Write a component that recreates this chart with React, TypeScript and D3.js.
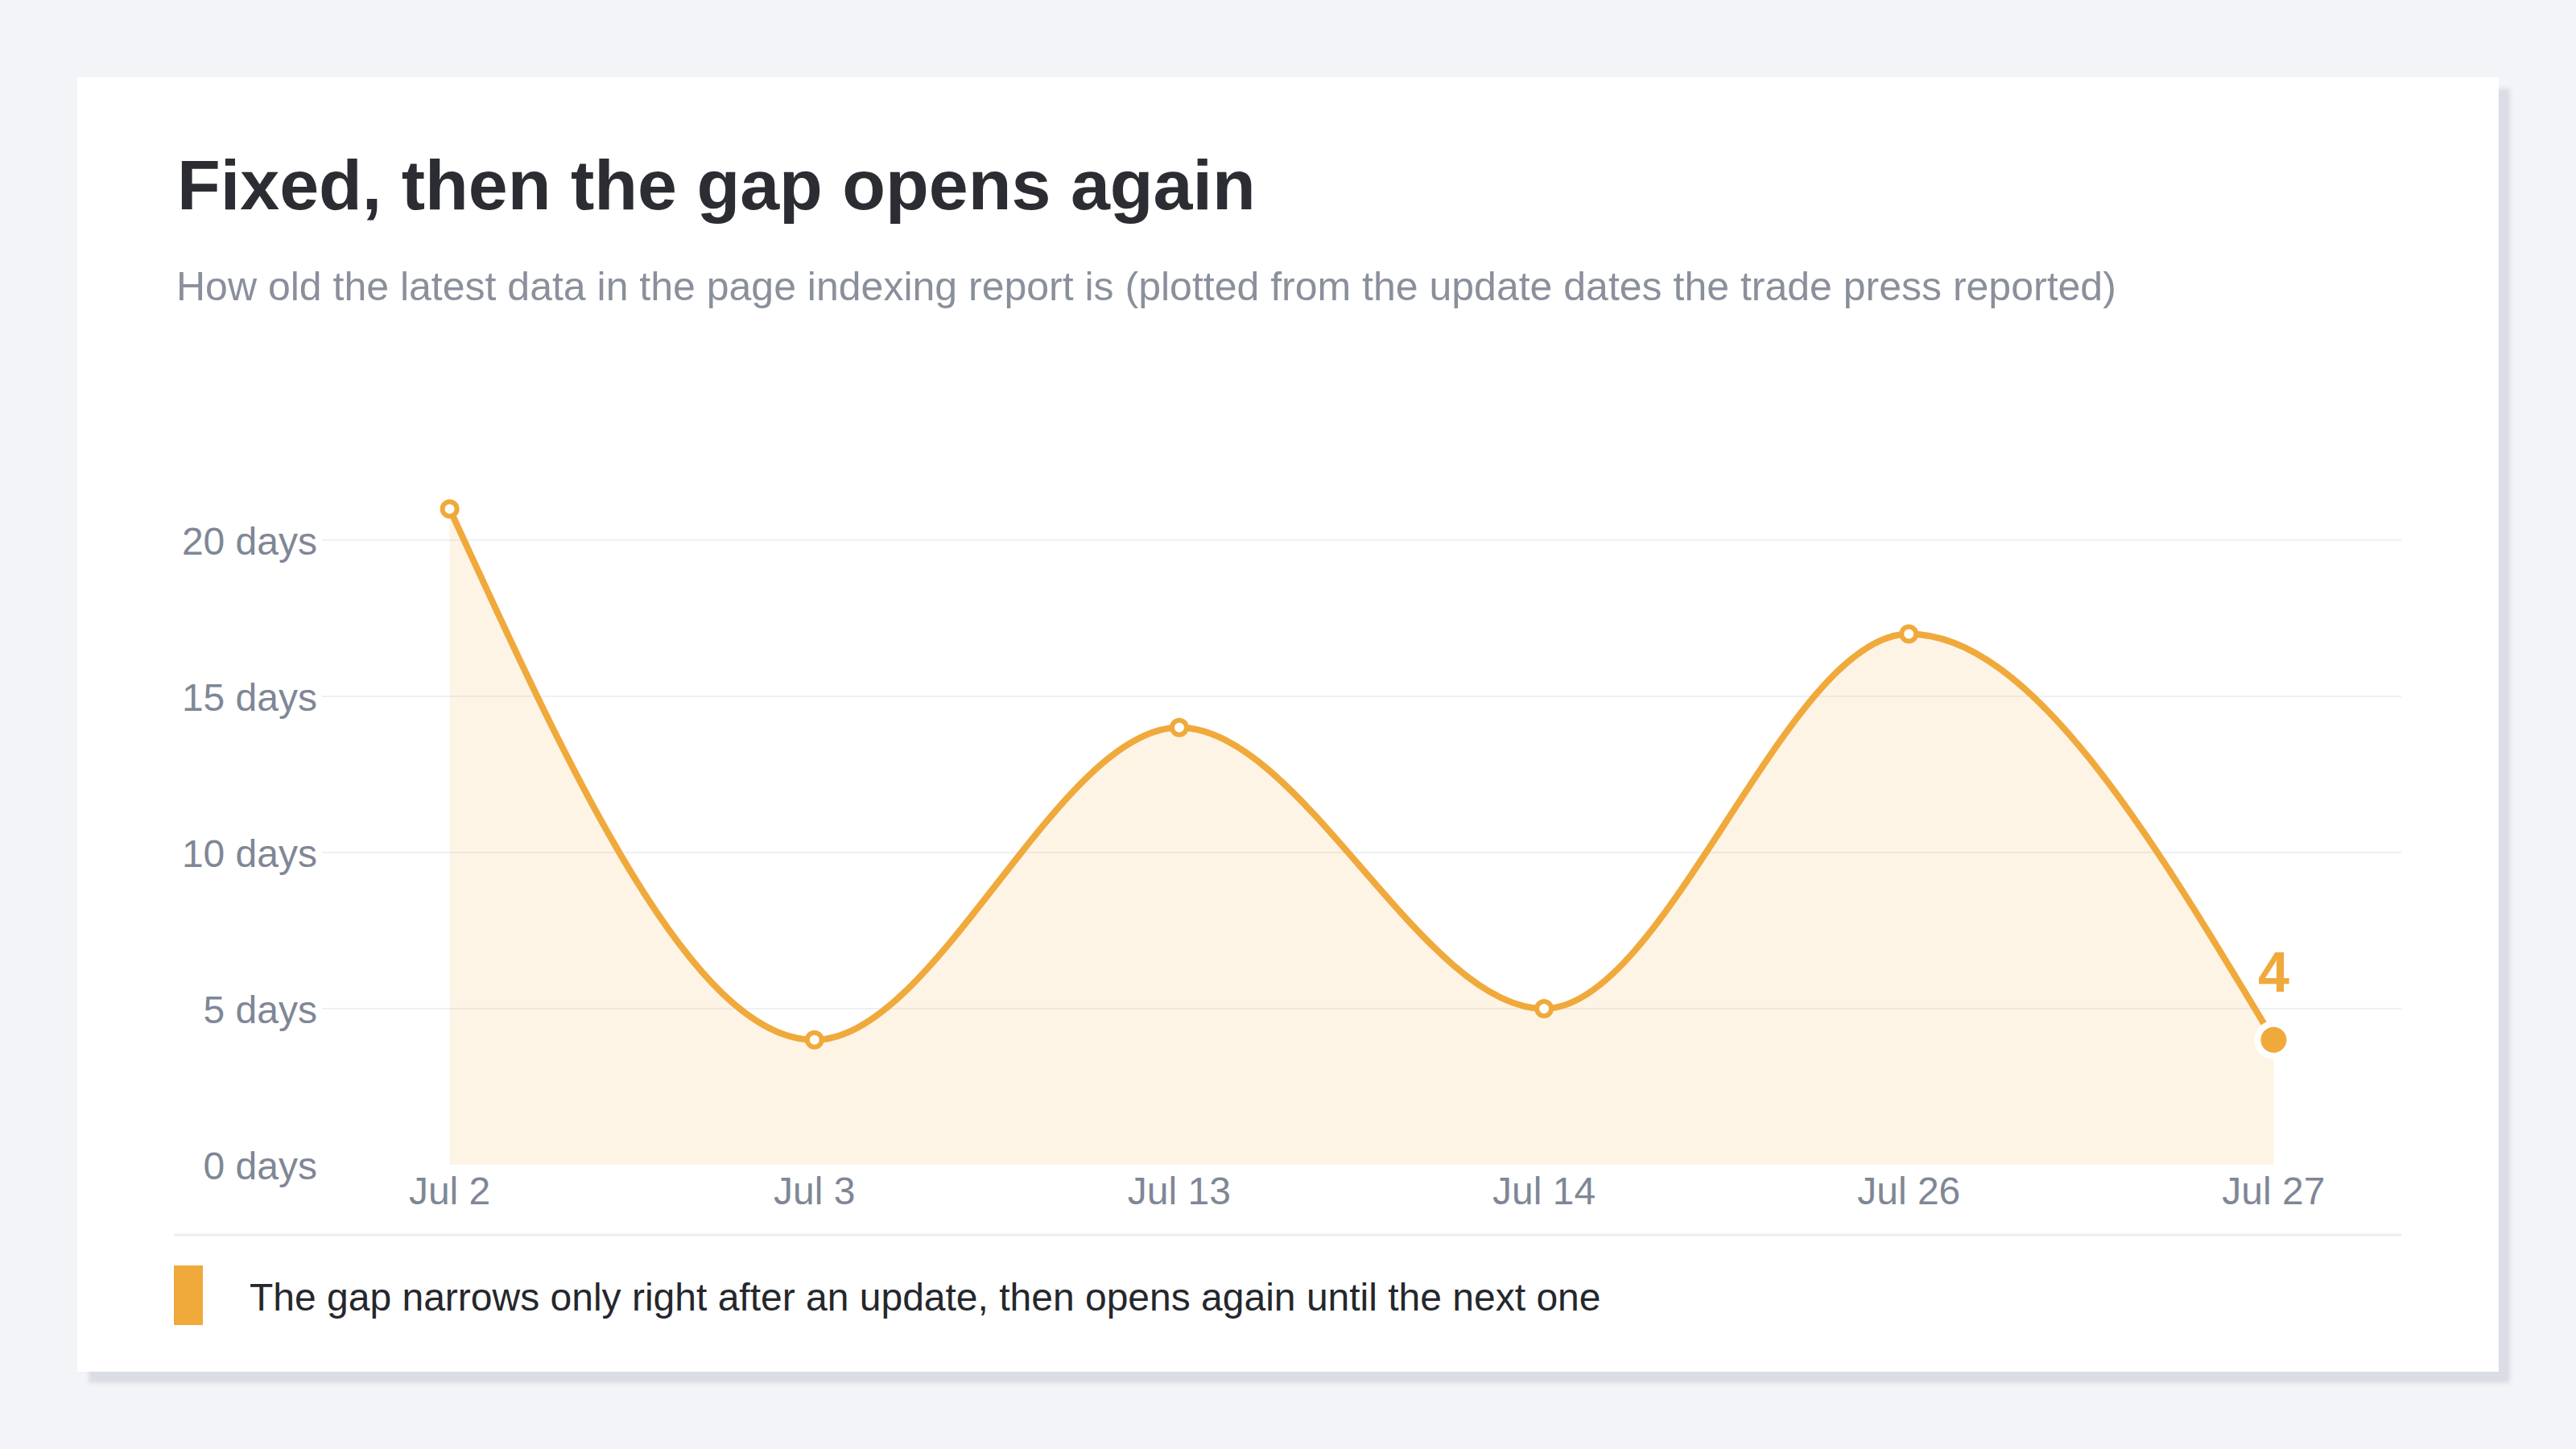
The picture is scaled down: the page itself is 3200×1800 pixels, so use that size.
import * as d3 from "d3";

const dates = ["Jul 2", "Jul 3", "Jul 13", "Jul 14", "Jul 26", "Jul 27"];
const ages = [21, 4, 14, 5, 17, 4];
const yTicks = [0, 5, 10, 15, 20];

const title = "Fixed, then the gap opens again";
const subtitle =
  "How old the latest data in the page indexing report is (plotted from the update dates the trade press reported)";
const legendText =
  "The gap narrows only right after an update, then opens again until the next one";

const W = 3200;
const H = 1800;
const orange = "#f0a93b";
const font = "'Liberation Sans', Arial, Helvetica, sans-serif";

const App = () => {
  const x = d3.scalePoint<string>().domain(dates).range([400, 2983]).padding(0.35);
  const y = d3.scaleLinear().domain([0, 20]).range([1447, 671]);

  const pts = dates.map((d, i) => ({ d, v: ages[i] }));

  const line = d3
    .line<{ d: string; v: number }>()
    .x((p) => x(p.d)!)
    .y((p) => y(p.v))
    .curve(d3.curveMonotoneX);

  const area = d3
    .area<{ d: string; v: number }>()
    .x((p) => x(p.d)!)
    .y0(y(0))
    .y1((p) => y(p.v))
    .curve(d3.curveMonotoneX);

  const last = pts[pts.length - 1];

  return (
    <svg
      width={W}
      height={H}
      style={{ position: "absolute", left: 0, top: 0, fontFamily: font }}
    >
      <defs>
        <filter id="blur" x="-5%" y="-5%" width="110%" height="110%">
          <feGaussianBlur stdDeviation="2.5" />
        </filter>
      </defs>
      <rect width={W} height={H} fill="#f3f4f8" />
      {/* card + shadow */}
      <rect x={110} y={110} width={3008} height={1608} fill="#dadde4" filter="url(#blur)" />
      <rect x={96} y={96} width={3008} height={1608} fill="#ffffff" />

      <text x={220} y={260} fontSize={88} fontWeight="bold" fill="#2b2d33">
        {title}
      </text>
      <text x={219} y={373} fontSize={50} fill="#8a909b">
        {subtitle}
      </text>

      {/* grid */}
      {yTicks
        .filter((t) => t > 0)
        .map((t) => (
          <line key={t} x1={400} x2={2983} y1={y(t)} y2={y(t)} stroke="#eef0f3" strokeWidth={2} />
        ))}

      <path d={area(pts)!} fill={orange} fillOpacity={0.13} />
      <path d={line(pts)!} fill="none" stroke={orange} strokeWidth={8} strokeLinejoin="round" />

      {pts.slice(0, -1).map((p) => (
        <circle key={p.d} cx={x(p.d)} cy={y(p.v)} r={9} fill="#fff" stroke={orange} strokeWidth={6} />
      ))}
      <circle cx={x(last.d)} cy={y(last.v)} r={24} fill="#fff" />
      <circle cx={x(last.d)} cy={y(last.v)} r={16} fill={orange} />
      <text
        x={x(last.d)}
        y={y(last.v) - 60}
        fontSize={70}
        fontWeight="bold"
        fill={orange}
        textAnchor="middle"
      >
        {last.v}
      </text>

      {/* y axis labels */}
      {yTicks.map((t) => (
        <text key={t} x={394} y={y(t)} dy="0.38em" fontSize={48} fill="#7f8796" textAnchor="end">
          {`${t} days`}
        </text>
      ))}

      {/* x axis labels */}
      {dates.map((d) => (
        <text key={d} x={x(d)} y={1496} fontSize={48} fill="#7f8796" textAnchor="middle">
          {d}
        </text>
      ))}

      <line x1={216} x2={2983} y1={1534} y2={1534} stroke="#eceef2" strokeWidth={3} />

      {/* legend */}
      <rect x={216} y={1572} width={36} height={74} fill={orange} />
      <text x={310} y={1628} fontSize={48} fill="#25272c">
        {legendText}
      </text>
    </svg>
  );
};

export default App;
